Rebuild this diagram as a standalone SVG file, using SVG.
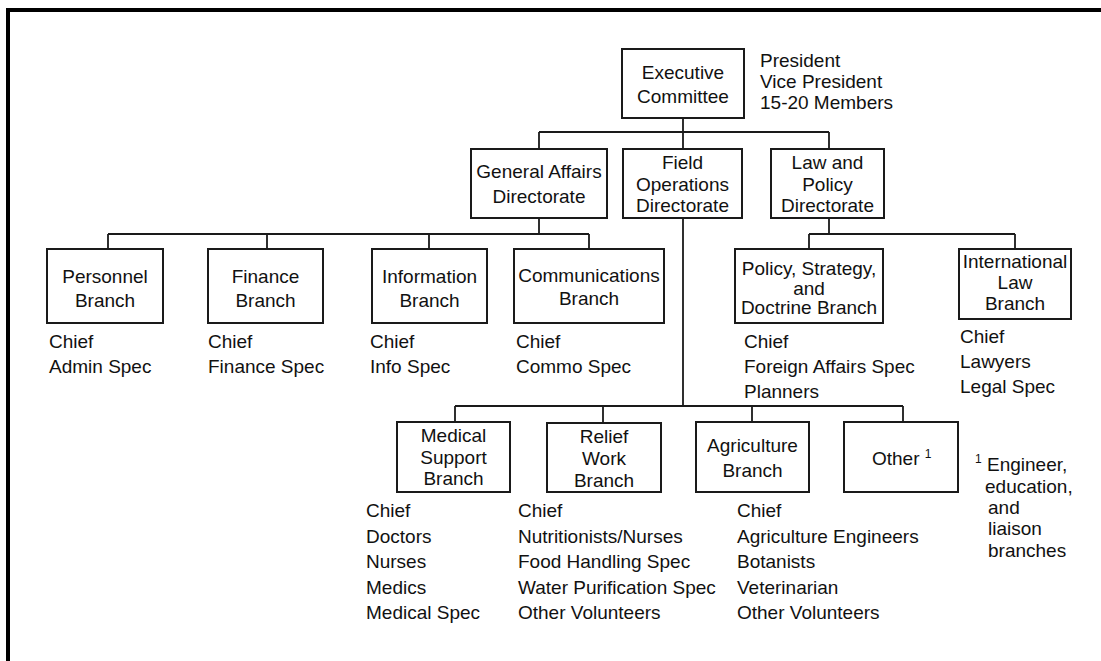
<svg xmlns="http://www.w3.org/2000/svg" width="1101" height="661" viewBox="0 0 1101 661">
<style>
text{font-family:"Liberation Sans",Arial,sans-serif;font-size:19px;fill:#111}
.c{text-anchor:middle}
.b{fill:#fff;stroke:#1a1a1a;stroke-width:2}
.l{fill:none;stroke:#1a1a1a;stroke-width:1.8}
.sup{font-size:12px}
</style>
<rect width="1101" height="661" fill="#fff"/>
<path d="M8 661V10H1101" fill="none" stroke="#000" stroke-width="4"/>
<g id="connectors">
<path class="l" d="M683 118V132M539 132H829M539 132V149M683 132V149M829 132V149"/>
<path class="l" d="M539 218V234M108 234H589M108 234V249M267 234V249M429 234V249M589 234V249"/>
<path class="l" d="M829 218V234M809 234H1015M809 234V249M1015 234V249"/>
<path class="l" d="M683 218V406M455 406H903M455 406V422M603 406V423M752 406V422M903 406V422"/>
</g>
<g id="exec">
<rect class="b" x="622" y="49" width="122" height="69"/>
<text class="c" x="683" y="79">Executive</text>
<text class="c" x="683" y="103">Committee</text>
<text x="760" y="67">President</text>
<text x="760" y="88">Vice President</text>
<text x="760" y="109">15-20 Members</text>
</g>
<g id="general-affairs">
<rect class="b" x="471" y="149" width="136" height="69"/>
<text class="c" x="539" y="178">General Affairs</text>
<text class="c" x="539" y="203">Directorate</text>
</g>
<g id="field-ops">
<rect class="b" x="623" y="149" width="119" height="69"/>
<text class="c" x="682.5" y="169">Field</text>
<text class="c" x="682.5" y="190.5">Operations</text>
<text class="c" x="682.5" y="212">Directorate</text>
</g>
<g id="law-policy">
<rect class="b" x="771" y="149" width="113" height="69"/>
<text class="c" x="827.5" y="169">Law and</text>
<text class="c" x="827.5" y="190.5">Policy</text>
<text class="c" x="827.5" y="212">Directorate</text>
</g>
<g id="personnel">
<rect class="b" x="47" y="249" width="116" height="74"/>
<text class="c" x="105" y="283">Personnel</text>
<text class="c" x="105" y="307">Branch</text>
<text x="49" y="348">Chief</text>
<text x="49" y="373">Admin Spec</text>
</g>
<g id="finance">
<rect class="b" x="208" y="249" width="115" height="74"/>
<text class="c" x="265.5" y="283">Finance</text>
<text class="c" x="265.5" y="307">Branch</text>
<text x="208" y="348">Chief</text>
<text x="208" y="373">Finance Spec</text>
</g>
<g id="information">
<rect class="b" x="372" y="249" width="115" height="74"/>
<text class="c" x="429.5" y="283">Information</text>
<text class="c" x="429.5" y="307">Branch</text>
<text x="370" y="348">Chief</text>
<text x="370" y="373">Info Spec</text>
</g>
<g id="communications">
<rect class="b" x="514" y="249" width="150" height="74"/>
<text class="c" x="589" y="282">Communications</text>
<text class="c" x="589" y="305">Branch</text>
<text x="516" y="348">Chief</text>
<text x="516" y="373">Commo Spec</text>
</g>
<g id="policy-strategy">
<rect class="b" x="735" y="249" width="148" height="74"/>
<text class="c" x="809" y="275">Policy, Strategy,</text>
<text class="c" x="809" y="294.5">and</text>
<text class="c" x="809" y="314">Doctrine Branch</text>
<text x="744" y="348">Chief</text>
<text x="744" y="373">Foreign Affairs Spec</text>
<text x="744" y="398">Planners</text>
</g>
<g id="international-law">
<rect class="b" x="959" y="249" width="112" height="70"/>
<text class="c" x="1015" y="268">International</text>
<text class="c" x="1015" y="289">Law</text>
<text class="c" x="1015" y="310">Branch</text>
<text x="960" y="343">Chief</text>
<text x="960" y="368">Lawyers</text>
<text x="960" y="393">Legal Spec</text>
</g>
<g id="medical">
<rect class="b" x="397" y="422" width="113" height="70"/>
<text class="c" x="453.5" y="442">Medical</text>
<text class="c" x="453.5" y="463.5">Support</text>
<text class="c" x="453.5" y="485">Branch</text>
<text x="366" y="517">Chief</text>
<text x="366" y="542.5">Doctors</text>
<text x="366" y="568">Nurses</text>
<text x="366" y="593.5">Medics</text>
<text x="366" y="619">Medical Spec</text>
</g>
<g id="relief">
<rect class="b" x="547" y="423" width="114" height="69"/>
<text class="c" x="604" y="443">Relief</text>
<text class="c" x="604" y="465">Work</text>
<text class="c" x="604" y="486.5">Branch</text>
<text x="518" y="517">Chief</text>
<text x="518" y="542.5">Nutritionists/Nurses</text>
<text x="518" y="568">Food Handling Spec</text>
<text x="518" y="593.5">Water Purification Spec</text>
<text x="518" y="619">Other Volunteers</text>
</g>
<g id="agriculture">
<rect class="b" x="696" y="422" width="113" height="70"/>
<text class="c" x="752.5" y="452">Agriculture</text>
<text class="c" x="752.5" y="477">Branch</text>
<text x="737" y="517">Chief</text>
<text x="737" y="542.5">Agriculture Engineers</text>
<text x="737" y="568">Botanists</text>
<text x="737" y="593.5">Veterinarian</text>
<text x="737" y="619">Other Volunteers</text>
</g>
<g id="other">
<rect class="b" x="844" y="422" width="114" height="70"/>
<text x="872" y="465">Other <tspan class="sup" dy="-7">1</tspan></text>
</g>
<g id="footnote">
<text class="sup" x="975" y="463">1</text>
<text x="987" y="471">Engineer,</text>
<text x="985" y="493">education,</text>
<text x="988" y="514">and</text>
<text x="988" y="535">liaison</text>
<text x="988" y="557">branches</text>
</g>
</svg>
